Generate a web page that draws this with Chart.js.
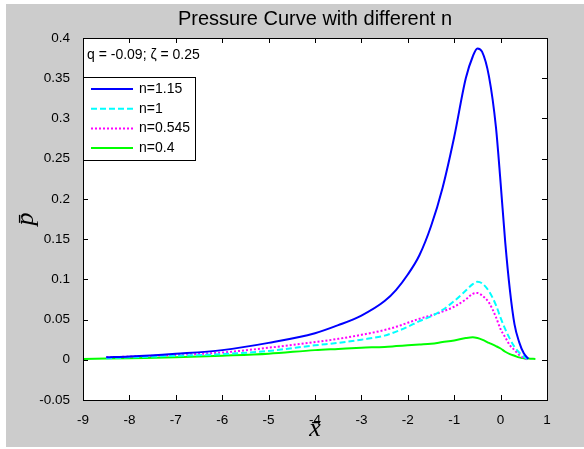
<!DOCTYPE html>
<html>
<head>
<meta charset="utf-8">
<script src="https://cdn.jsdelivr.net/npm/chart.js@4"></script>
<style>
  html, body { margin: 0; padding: 0; background: #fff; }
  #wrap { width: 584px; height: 449px; }
</style>
</head>
<body>
<div id="wrap"><canvas id="pressureChart" width="584" height="449"></canvas></div>
<script>
// x positions shared by all curves
const xValues = [-9, -8.5, -8, -7, -6, -5, -4, -3.5, -3, -2.5, -2.25, -2, -1.75, -1.5, -1.25, -1, -0.75, -0.6, -0.5, -0.4, -0.25, -0.1, 0, 0.1, 0.2, 0.3, 0.4, 0.5, 0.6, 0.75];

// pressure values (null = curve not drawn there)
const pN115 = [null, 0.003, 0.004, 0.0075, 0.012, 0.021, 0.033, 0.043, 0.055, 0.073, 0.087, 0.106, 0.13, 0.166, 0.214, 0.277, 0.35, 0.377, 0.387, 0.383, 0.352, 0.289, 0.22, 0.146, 0.087, 0.044, 0.022, 0.008, 0.001, null];
const pN1 = [null, 0.002, 0.003, 0.005, 0.007, 0.011, 0.018, 0.021, 0.025, 0.03, 0.035, 0.041, 0.048, 0.054, 0.062, 0.073, 0.086, 0.094, 0.097, 0.095, 0.085, 0.068, 0.052, 0.038, 0.026, 0.016, 0.009, 0.004, 0.0, null];
const pN0545 = [null, 0.003, 0.004, 0.006, 0.009, 0.015, 0.022, 0.026, 0.031, 0.037, 0.041, 0.046, 0.051, 0.055, 0.06, 0.066, 0.075, 0.082, 0.083, 0.08, 0.071, 0.053, 0.038, 0.028, 0.018, 0.012, 0.006, 0.002, 0.0, null];
const pN04 = [0.001, 0.0015, 0.002, 0.003, 0.005, 0.0075, 0.012, 0.0135, 0.015, 0.016, 0.017, 0.018, 0.019, 0.02, 0.022, 0.024, 0.027, 0.028, 0.027, 0.025, 0.021, 0.017, 0.014, 0.01, 0.007, 0.005, 0.003, 0.002, 0.0015, 0.001];

const seriesLabels = ["n=1.15", "n=1", "n=0.545", "n=0.4"];
const seriesColors = ["#0000ff", "#00ffff", "#ff00ff", "#00ff00"];
const seriesDashes = [[], [6, 3], [2, 2], []];

const xTicks = [-9, -8, -7, -6, -5, -4, -3, -2, -1, 0, 1];
const yTicks = [-0.05, 0, 0.05, 0.1, 0.15, 0.2, 0.25, 0.3, 0.35, 0.4];

const titleText = "Pressure Curve with different n";
const noteText = "q = -0.09; \u03b6 = 0.25";

const sansFont = "'Liberation Sans', Arial, sans-serif";

const allSeries = [pN115, pN1, pN0545, pN04];
const datasets = allSeries.map((vals, i) => ({
    label: seriesLabels[i],
    data: xValues.map((x, j) => ({ x: x, y: vals[j] })),
    borderColor: seriesColors[i],
    borderDash: seriesDashes[i],
    borderWidth: 2,
    pointRadius: 0,
    cubicInterpolationMode: "monotone",
    spanGaps: false
}));

// draws the MATLAB-like frame, inward ticks, title, labels and legend
const matlabLook = {
    id: "matlabLook",
    beforeDraw(chart) {
        const ctx = chart.ctx;
        const a = chart.chartArea;
        ctx.save();
        ctx.fillStyle = "#ffffff";
        ctx.fillRect(0, 0, chart.width, chart.height);
        ctx.fillStyle = "#cccccc";
        ctx.fillRect(6, 4, chart.width - 6, chart.height - 6);
        ctx.fillStyle = "#ffffff";
        ctx.fillRect(a.left, a.top, a.right - a.left, a.bottom - a.top);
        ctx.restore();
    },
    afterDraw(chart) {
        const ctx = chart.ctx;
        const a = chart.chartArea;
        const xs = chart.scales.x;
        const ys = chart.scales.y;
        ctx.save();
        ctx.strokeStyle = "#000";
        ctx.lineWidth = 1;
        ctx.setLineDash([]);
        ctx.strokeRect(Math.round(a.left) + 0.5, Math.round(a.top) + 0.5,
            Math.round(a.right - a.left), Math.round(a.bottom - a.top));

        // inward tick marks
        ctx.beginPath();
        xTicks.forEach(v => {
            const px = Math.round(xs.getPixelForValue(v)) + 0.5;
            ctx.moveTo(px, a.bottom); ctx.lineTo(px, a.bottom - 5);
            ctx.moveTo(px, a.top); ctx.lineTo(px, a.top + 5);
        });
        yTicks.forEach(v => {
            const py = Math.round(ys.getPixelForValue(v)) + 0.5;
            ctx.moveTo(a.left, py); ctx.lineTo(a.left + 5, py);
            ctx.moveTo(a.right, py); ctx.lineTo(a.right - 5, py);
        });
        ctx.stroke();

        // title
        ctx.fillStyle = "#000";
        ctx.font = "20px " + sansFont;
        ctx.textAlign = "center";
        ctx.textBaseline = "middle";
        ctx.fillText(titleText, (a.left + a.right) / 2, 19);

        // axis labels
        ctx.font = "italic 26px 'Liberation Serif', 'DejaVu Serif', serif";
        ctx.fillText("x\u0304", (a.left + a.right) / 2, 429);
        ctx.save();
        ctx.translate(26, 219);
        ctx.rotate(-Math.PI / 2);
        ctx.fillText("p\u0304", 0, 0);
        ctx.restore();

        // note
        ctx.font = "14px " + sansFont;
        ctx.textAlign = "left";
        ctx.fillText(noteText, a.left + 4, 55);

        // legend
        const lx = a.left, ly = 77.5, lw = 112, lh = 83;
        ctx.fillStyle = "#fff";
        ctx.fillRect(lx, ly, lw, lh);
        ctx.strokeStyle = "#000";
        ctx.strokeRect(Math.round(lx) + 0.5, ly, lw, lh);
        chart.data.datasets.forEach((ds, i) => {
            const y = 89 + i * 19.7;
            ctx.strokeStyle = ds.borderColor;
            ctx.lineWidth = ds.borderWidth;
            ctx.setLineDash(ds.borderDash);
            ctx.beginPath();
            ctx.moveTo(lx + 8, y);
            ctx.lineTo(lx + 50, y);
            ctx.stroke();
            ctx.setLineDash([]);
            ctx.fillStyle = "#000";
            ctx.fillText(ds.label, lx + 56, y);
        });
        ctx.restore();
    }
};

new Chart(document.getElementById("pressureChart"), {
    type: "line",
    data: { datasets: datasets },
    options: {
        responsive: false,
        animation: false,
        events: [],
        layout: { padding: { left: 0, top: 38, right: 37, bottom: 0 } },
        plugins: {
            legend: { display: false },
            title: { display: false },
            tooltip: { enabled: false }
        },
        scales: {
            x: {
                type: "linear",
                min: -9,
                max: 1,
                afterBuildTicks: s => { s.ticks = xTicks.map(v => ({ value: v })); },
                afterFit: s => { s.height = 49; },
                grid: { display: false },
                border: { display: false },
                ticks: {
                    color: "#000",
                    padding: 4,
                    maxRotation: 0,
                    font: { family: sansFont, size: 13.5 },
                    callback: v => String(v)
                }
            },
            y: {
                min: -0.05,
                max: 0.4,
                afterBuildTicks: s => { s.ticks = yTicks.map(v => ({ value: v })); },
                afterFit: s => { s.width = 83; },
                grid: { display: false },
                border: { display: false },
                ticks: {
                    color: "#000",
                    padding: 5,
                    font: { family: sansFont, size: 13.5 },
                    callback: v => String(+v.toFixed(2))
                }
            }
        }
    },
    plugins: [matlabLook]
});
</script>
</body>
</html>
